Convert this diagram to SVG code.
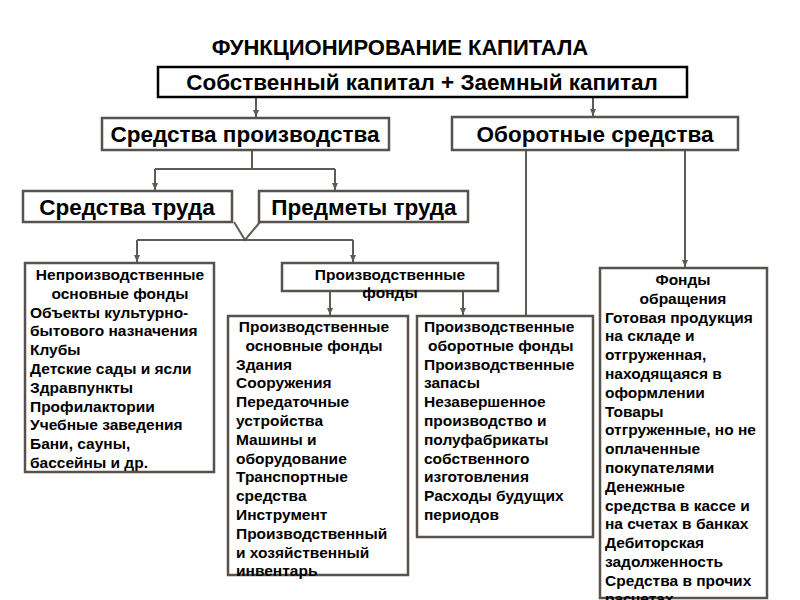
<svg xmlns="http://www.w3.org/2000/svg" width="800" height="600" viewBox="0 0 800 600">
<style>
.box{fill:#fff;stroke:#58524c;stroke-width:2.5}
.top{fill:#fff;stroke:#000;stroke-width:2.5}
.con{fill:none;stroke:#5f5a55;stroke-width:2}
text{font-family:"Liberation Sans",Arial,sans-serif;font-weight:bold;fill:#000}
.h{font-size:22.5px;text-anchor:middle}
.t{font-size:22px;text-anchor:middle}
.b{font-size:15.5px}
.c{text-anchor:middle}
</style>
<defs>
<marker id="ar" markerUnits="userSpaceOnUse" markerWidth="8" markerHeight="8" refX="7" refY="4" orient="auto">
<path d="M0,1 L7,4 L0,7 z" fill="#5f5a55"/>
</marker>
</defs>
<text class="t" x="400" y="55">ФУНКЦИОНИРОВАНИЕ КАПИТАЛА</text>
<g id="connectors">
<line class="con" x1="256" y1="97" x2="256" y2="117" marker-end="url(#ar)"/>
<line class="con" x1="593" y1="97" x2="593" y2="116" marker-end="url(#ar)"/>
<polyline class="con" points="252,150 252,169"/>
<polyline class="con" points="155,169 335,169"/>
<line class="con" x1="155" y1="169" x2="155" y2="190" marker-end="url(#ar)"/>
<line class="con" x1="335" y1="169" x2="335" y2="190" marker-end="url(#ar)"/>
<polyline class="con" points="234,222 245,240 260,222"/>
<polyline class="con" points="137,240 353,240"/>
<line class="con" x1="137" y1="240" x2="137" y2="262" marker-end="url(#ar)"/>
<line class="con" x1="353" y1="240" x2="353" y2="262" marker-end="url(#ar)"/>
<line class="con" x1="330" y1="291" x2="330" y2="315" marker-end="url(#ar)"/>
<line class="con" x1="463" y1="291" x2="463" y2="315" marker-end="url(#ar)"/>
<line class="con" x1="526" y1="150" x2="526" y2="316"/>
<line class="con" x1="685" y1="150" x2="685" y2="267" marker-end="url(#ar)"/>
</g>
<g id="top">
<rect class="top" x="158" y="67" width="529" height="30"/>
<text class="h" x="422" y="90">Собственный капитал + Заемный капитал</text>
</g>
<g id="sredstva-proizv">
<rect class="box" x="102" y="118" width="287" height="32"/>
<text class="h" x="245" y="142">Средства производства</text>
</g>
<g id="oborotnye">
<rect class="box" x="452" y="117" width="286" height="33"/>
<text class="h" x="595" y="142">Оборотные средства</text>
</g>
<g id="sredstva-truda">
<rect class="box" x="23" y="191" width="209" height="31"/>
<text class="h" x="127" y="215">Средства труда</text>
</g>
<g id="predmety-truda">
<rect class="box" x="259" y="191" width="209" height="31"/>
<text class="h" x="364" y="215">Предметы труда</text>
</g>
<g id="neproizv">
<rect class="box" x="25" y="263" width="189" height="209"/>
<text class="b c" x="120" y="280">Непроизводственные</text>
<text class="b c" x="120" y="299">основные фонды</text>
<text class="b" x="30" y="318">Объекты культурно-</text>
<text class="b" x="30" y="336">бытового назначения</text>
<text class="b" x="30" y="355">Клубы</text>
<text class="b" x="30" y="374">Детские сады и ясли</text>
<text class="b" x="30" y="393">Здравпункты</text>
<text class="b" x="30" y="412">Профилактории</text>
<text class="b" x="30" y="430">Учебные заведения</text>
<text class="b" x="30" y="449">Бани, сауны,</text>
<text class="b" x="30" y="468">бассейны и др.</text>
</g>
<g id="proizv-fondy">
<rect class="box" x="282" y="263" width="216" height="28"/>
<text class="b c" x="390" y="280">Производственные</text>
<text class="b c" x="390" y="298">фонды</text>
</g>
<g id="osnovnye">
<rect class="box" x="228" y="316" width="180" height="259"/>
<text class="b c" x="314" y="332">Производственные</text>
<text class="b c" x="314" y="351">основные фонды</text>
<text class="b" x="236" y="370">Здания</text>
<text class="b" x="236" y="388">Сооружения</text>
<text class="b" x="236" y="407">Передаточные</text>
<text class="b" x="236" y="426">устройства</text>
<text class="b" x="236" y="445">Машины и</text>
<text class="b" x="236" y="464">оборудование</text>
<text class="b" x="236" y="482">Транспортные</text>
<text class="b" x="236" y="501">средства</text>
<text class="b" x="236" y="520">Инструмент</text>
<text class="b" x="236" y="539">Производственный</text>
<text class="b" x="236" y="558">и хозяйственный</text>
<text class="b" x="236" y="576">инвентарь</text>
</g>
<g id="oborotnye-fondy">
<rect class="box" x="417" y="316" width="176" height="221"/>
<text class="b" x="424" y="332">Производственные</text>
<text class="b" x="428" y="351">оборотные фонды</text>
<text class="b" x="424" y="370">Производственные</text>
<text class="b" x="424" y="388">запасы</text>
<text class="b" x="424" y="407">Незавершенное</text>
<text class="b" x="424" y="426">производство и</text>
<text class="b" x="424" y="445">полуфабрикаты</text>
<text class="b" x="424" y="464">собственного</text>
<text class="b" x="424" y="482">изготовления</text>
<text class="b" x="424" y="501">Расходы будущих</text>
<text class="b" x="424" y="520">периодов</text>
</g>
<g id="obrashcheniya">
<rect class="box" x="600" y="268" width="167" height="330"/>
<text class="b c" x="683" y="285">Фонды</text>
<text class="b c" x="683" y="304">обращения</text>
<text class="b" x="605" y="323">Готовая продукция</text>
<text class="b" x="605" y="341">на складе и</text>
<text class="b" x="605" y="360">отгруженная,</text>
<text class="b" x="605" y="379">находящаяся в</text>
<text class="b" x="605" y="398">оформлении</text>
<text class="b" x="605" y="417">Товары</text>
<text class="b" x="605" y="435">отгруженные, но не</text>
<text class="b" x="605" y="454">оплаченные</text>
<text class="b" x="605" y="473">покупателями</text>
<text class="b" x="605" y="492">Денежные</text>
<text class="b" x="605" y="511">средства в кассе и</text>
<text class="b" x="605" y="529">на счетах в банках</text>
<text class="b" x="605" y="548">Дебиторская</text>
<text class="b" x="605" y="567">задолженность</text>
<text class="b" x="605" y="586">Средства в прочих</text>
<text class="b" x="605" y="604">расчетах</text>
</g>
</svg>
